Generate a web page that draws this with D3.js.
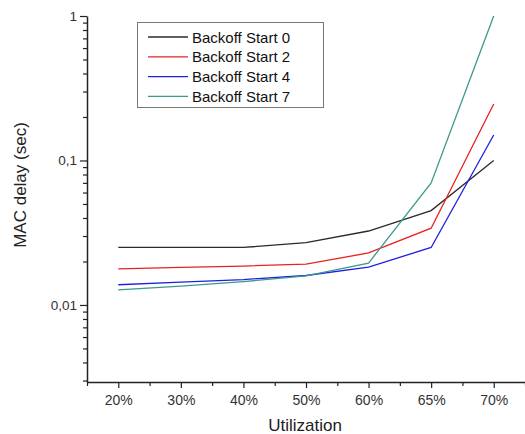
<!DOCTYPE html>
<html><head><meta charset="utf-8">
<script src="https://cdn.jsdelivr.net/npm/d3@7"></script>
<style>body{margin:0;background:#fff}svg{font-family:Arial,"Liberation Sans",sans-serif}</style>
</head><body><svg id="c" width="525" height="434"></svg>
<script>
const categories = ["20%","30%","40%","50%","60%","65%","70%"];
const seriesNames = ["Backoff Start 0","Backoff Start 2","Backoff Start 4","Backoff Start 7"];
const start0 = [0.025,0.025,0.025,0.027,0.0325,0.045,0.1];
const start2 = [0.0178,0.0182,0.0186,0.0192,0.0229,0.034,0.246];
const start4 = [0.0138,0.0144,0.015,0.016,0.0183,0.025,0.15];
const start7 = [0.0127,0.0135,0.0145,0.0159,0.0195,0.07,1.0];
const yTicks = [1,0.1,0.01];
const yTickLabels = ["1","0,1","0,01"];
const colors = ["#2a2a2a","#e82222","#2020e0","#3c9a8c"];
const series = [start0,start2,start4,start7];

(function(){
const svg = d3.select("#c");
const mLeft=87, mRight=525, mTop=16, mBottom=382;
const x = d3.scaleLinear().domain([-0.5, categories.length-0.5]).range([mLeft,mRight]);
const y = d3.scaleLog().domain([0.00293,1]).range([mBottom,mTop]);

// Y axis
const minorY = [];
for (let e=-3;e<0;e++) for (let m=2;m<10;m++){const v=m*Math.pow(10,e); if(v>=0.00293&&v<1) minorY.push(v);}
svg.append("g").attr("transform",`translate(${mLeft},0)`)
  .call(d3.axisLeft(y).tickValues(minorY).tickSize(4).tickFormat(""))
  .call(g=>g.select(".domain").remove());
const ya = svg.append("g").attr("transform",`translate(${mLeft},0)`)
  .call(d3.axisLeft(y).tickValues(yTicks).tickSize(7).tickSizeOuter(0).tickPadding(3).tickFormat((d,i)=>yTickLabels[i]));
ya.select(".domain").attr("stroke-width",1.5);
ya.selectAll(".tick text").attr("font-size",13.5);

// X axis
const minorX = d3.range(-0.5, categories.length, 1);
svg.append("g").attr("transform",`translate(0,${mBottom})`)
  .call(d3.axisBottom(x).tickValues(minorX).tickSize(4).tickFormat(""))
  .call(g=>g.select(".domain").remove());
const xa = svg.append("g").attr("transform",`translate(0,${mBottom})`)
  .call(d3.axisBottom(x).tickValues(d3.range(categories.length)).tickSize(6).tickSizeOuter(0).tickPadding(7).tickFormat(i=>categories[i]));
xa.select(".domain").attr("stroke-width",1.5);
xa.selectAll(".tick text").attr("font-size",14);

svg.selectAll(".tick text").attr("fill","#333");
svg.selectAll(".tick line").attr("stroke","#222").attr("stroke-width",1.2);
svg.selectAll(".domain").attr("stroke","#222");

// axis titles
svg.append("text").attr("x",305).attr("y",431).attr("text-anchor","middle")
  .attr("font-size",17).attr("fill","#222").text("Utilization");
svg.append("text").attr("transform","translate(26,185) rotate(-90)").attr("text-anchor","middle")
  .attr("font-size",17).attr("fill","#222").text("MAC delay (sec)");

// lines
const line = d3.line().x((d,i)=>x(i)).y(d=>y(d));
series.forEach((s,k)=>{
  svg.append("path").datum(s).attr("d",line).attr("fill","none")
    .attr("stroke",colors[k]).attr("stroke-width",1.3);
});

// legend
const lg = svg.append("g");
lg.append("rect").attr("x",137.5).attr("y",22.5).attr("width",186).attr("height",85)
  .attr("fill","#fff").attr("stroke","#777").attr("stroke-width",1);
seriesNames.forEach((n,k)=>{
  const yy = 37 + k*19.8;
  lg.append("line").attr("x1",148).attr("x2",188).attr("y1",yy).attr("y2",yy)
    .attr("stroke",colors[k]).attr("stroke-width",1.3);
  lg.append("text").attr("x",192).attr("y",yy+5.5).attr("font-size",15).attr("fill","#111").text(n);
});
})();
</script></body></html>
